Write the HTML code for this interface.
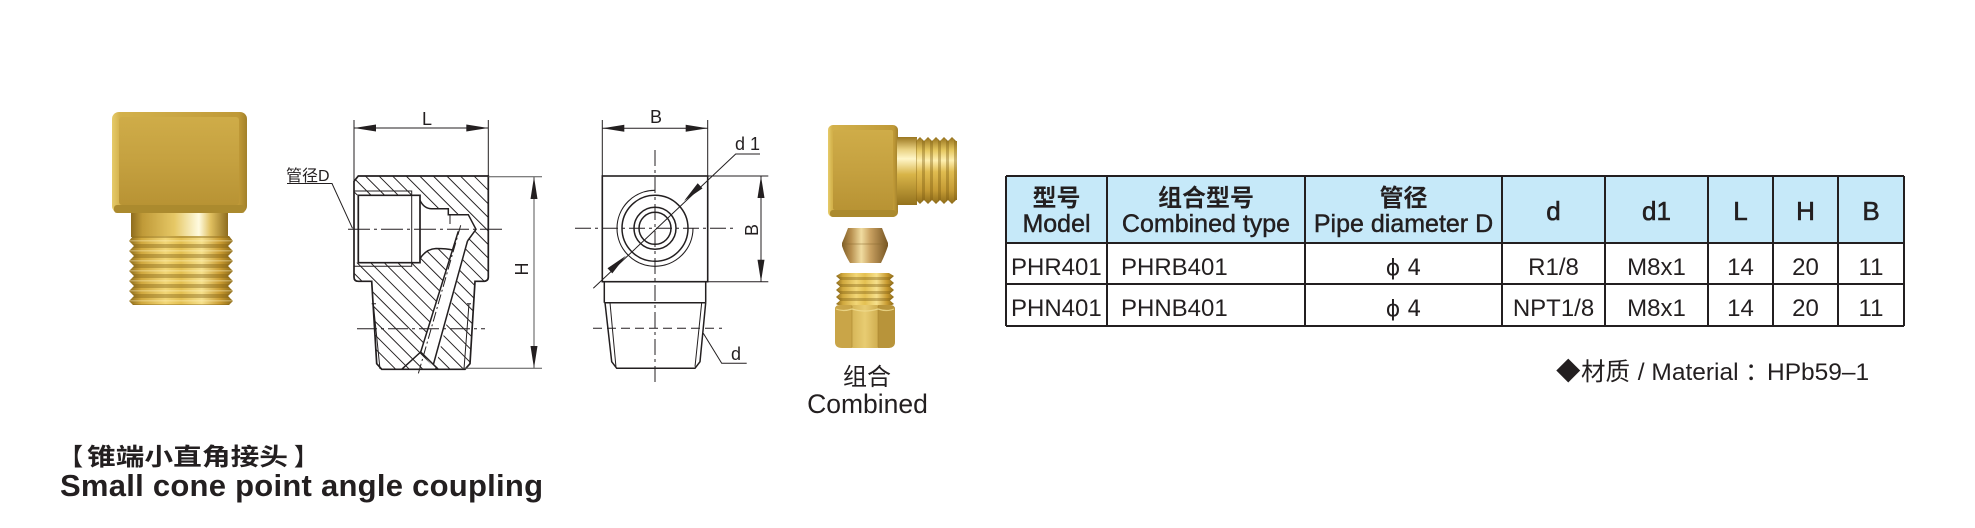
<!DOCTYPE html>
<html>
<head>
<meta charset="utf-8">
<style>
html,body{margin:0;padding:0;background:#fff;}
svg{display:block}
</style>
</head>
<body>
<svg width="1975" height="528" viewBox="0 0 1975 528" xmlns="http://www.w3.org/2000/svg" font-family="'Liberation Sans','Noto Sans CJK SC',sans-serif" fill="#231f20">
<defs>
  <pattern id="hatch" patternUnits="userSpaceOnUse" width="40" height="9.6" patternTransform="rotate(45)">
    <line x1="0" y1="0.5" x2="40" y2="0.5" stroke="#231f20" stroke-width="1"/>
  </pattern>
  <linearGradient id="headOuter" x1="0" y1="0" x2="1" y2="0">
    <stop offset="0" stop-color="#e6cb6a"/><stop offset="0.06" stop-color="#d3b14b"/>
    <stop offset="0.5" stop-color="#c9a643"/><stop offset="0.94" stop-color="#bf9937"/>
    <stop offset="1" stop-color="#a2802a"/>
  </linearGradient>
  <linearGradient id="headFace" x1="0" y1="0" x2="0" y2="1">
    <stop offset="0" stop-color="#cfac48"/><stop offset="0.5" stop-color="#c5a140"/>
    <stop offset="1" stop-color="#b89334"/>
  </linearGradient>
  <linearGradient id="neckH" x1="0" y1="0" x2="1" y2="0">
    <stop offset="0" stop-color="#8e6c1e"/><stop offset="0.12" stop-color="#c09a38"/>
    <stop offset="0.45" stop-color="#e6c866"/><stop offset="0.7" stop-color="#fffbe0"/>
    <stop offset="0.82" stop-color="#e0c060"/><stop offset="1" stop-color="#8e6c1e"/>
  </linearGradient>
  <linearGradient id="neckV" x1="0" y1="0" x2="0" y2="1">
    <stop offset="0" stop-color="#9a7620"/><stop offset="0.18" stop-color="#e8d080"/>
    <stop offset="0.32" stop-color="#fff6c8"/><stop offset="0.55" stop-color="#d8b448"/>
    <stop offset="1" stop-color="#94721e"/>
  </linearGradient>
  <linearGradient id="threadH" x1="0" y1="0" x2="1" y2="0">
    <stop offset="0" stop-color="#8c6a1a"/><stop offset="0.12" stop-color="#d0a83e"/>
    <stop offset="0.35" stop-color="#f2d676"/><stop offset="0.5" stop-color="#e4c052"/>
    <stop offset="0.7" stop-color="#f6e08c"/><stop offset="0.88" stop-color="#c89a30"/>
    <stop offset="1" stop-color="#8a6818"/>
  </linearGradient>
  <linearGradient id="threadV" x1="0" y1="0" x2="0" y2="1">
    <stop offset="0" stop-color="#94701c"/><stop offset="0.2" stop-color="#e6c860"/>
    <stop offset="0.35" stop-color="#fff0b0"/><stop offset="0.52" stop-color="#e0bc50"/>
    <stop offset="0.8" stop-color="#c49a34"/><stop offset="1" stop-color="#8e6c1a"/>
  </linearGradient>
  <linearGradient id="oliveG" x1="0" y1="0" x2="1" y2="0">
    <stop offset="0" stop-color="#7e5e26"/><stop offset="0.2" stop-color="#b89050"/>
    <stop offset="0.42" stop-color="#f0dca0"/><stop offset="0.62" stop-color="#c8a060"/>
    <stop offset="1" stop-color="#755422"/>
  </linearGradient>
  <linearGradient id="hexMid" x1="0" y1="0" x2="1" y2="0">
    <stop offset="0" stop-color="#d6b658"/><stop offset="0.5" stop-color="#e8cc72"/>
    <stop offset="1" stop-color="#d0ae50"/>
  </linearGradient>
  <pattern id="stripesH" patternUnits="userSpaceOnUse" width="20" height="10" patternTransform="translate(0,244)">
    <rect x="0" y="0" width="20" height="4" fill="#7a5a10" fill-opacity="0.38"/>
    <rect x="0" y="6" width="20" height="1.5" fill="#fff4c0" fill-opacity="0.35"/>
  </pattern>
  <pattern id="stripesN" patternUnits="userSpaceOnUse" width="20" height="7" patternTransform="translate(0,277)">
    <rect x="0" y="0" width="20" height="3" fill="#7a5a10" fill-opacity="0.38"/>
  </pattern>
  <pattern id="stripesV" patternUnits="userSpaceOnUse" width="8" height="20" patternTransform="translate(922,0)">
    <rect x="0" y="0" width="3" height="20" fill="#7a5a10" fill-opacity="0.38"/>
  </pattern>
</defs>

<!-- ================= PHOTO 1 ================= -->
<rect x="112" y="112" width="135" height="101" rx="7" fill="url(#headOuter)"/>
<rect x="119" y="117" width="120" height="88" rx="3" fill="url(#headFace)"/>
<rect x="114" y="205" width="131" height="8" rx="3" fill="#ab8a2e"/>
<rect x="131" y="213" width="97" height="24" fill="url(#neckH)"/>
<polygon fill="url(#threadH)" points="133,236 129,241 134,246 129,251 134,256 129,261 134,266 129,271 134,276 129,281 134,286 129,291 134,296 129,301 133,305 229,305 233,301 228,296 233,291 228,286 233,281 228,276 233,271 228,266 233,261 228,256 233,251 228,246 233,241 229,236"/>
<polygon fill="url(#stripesH)" points="133,236 129,241 134,246 129,251 134,256 129,261 134,266 129,271 134,276 129,281 134,286 129,291 134,296 129,301 133,305 229,305 233,301 228,296 233,291 228,286 233,281 228,276 233,271 228,266 233,261 228,256 233,251 228,246 233,241 229,236"/>

<!-- ================= SECTION DRAWING (left) ================= -->
<path d="M354,181.3 L358.3,176 L488.3,176 L488.3,277 Q488.3,281.3 483.3,281.3 L475,281.3 L470,363.7 L465,369.3 L381.7,369.3 L376.7,363.7 L371.7,281.3 L358.3,281.3 Q354,281.3 354,277 Z" fill="#fff"/>
<path d="M354,181.3 L358.3,176 L488.3,176 L488.3,277 Q488.3,281.3 483.3,281.3 L475,281.3 L470,363.7 L465,369.3 L381.7,369.3 L376.7,363.7 L371.7,281.3 L358.3,281.3 Q354,281.3 354,277 Z" fill="url(#hatch)"/>
<polygon fill="#fff" points="354,195.3 420,195.3 420,200.3 426,206.5 431.7,208.7 448.3,208.7 450,214.7 468.3,214.7 476,229.3 467.5,241 435,369.3 420.7,352 452.5,250 440,248.5 432,249 425,253 420,258.7 420,262.7 354,262.7"/>
<g fill="none" stroke="#231f20">
  <path d="M354,181.3 L358.3,176 L488.3,176 L488.3,277 Q488.3,281.3 483.3,281.3 L475,281.3 L470,363.7 L465,369.3 L381.7,369.3 L376.7,363.7 L371.7,281.3 L358.3,281.3 Q354,281.3 354,277 Z" stroke-width="1.7"/>
  <path d="M354,191 H411.7 V266.3 H354" stroke-width="1"/>
  <path d="M358.3,195.3 H420 V262.7 H358.3 Z" stroke-width="1.7"/>
  <path d="M420,200.3 Q424,208.7 431.7,208.7 H448.3 V214.7 H468.3 L476,229.3 L467.5,241" stroke-width="1.5"/>
  <path d="M450,214.7 V224" stroke-width="1"/>
  <path d="M420,258.7 Q426,249 436,248.5 Q447,248.5 452.5,250" stroke-width="1.5"/>
  <path d="M458.3,231.3 L420.7,352" stroke-width="1.5"/>
  <path d="M467.5,241 L433.5,364" stroke-width="1.5"/>
  <path d="M401.7,369.3 L420.7,352 L438.3,369.3" stroke-width="1.5"/>
  <path d="M373.3,303.7 L380,369 M469,303.7 L464,369 M371.7,303.7 H376 M471,303.7 H467" stroke-width="1"/>
  <path d="M348,229.3 H502" stroke-width="1" stroke-dasharray="22,4,3,4"/>
  <path d="M357,328.7 H485" stroke-width="1" stroke-dasharray="20,4,3,4"/>
  <path d="M460.7,225.3 L418.3,373.7" stroke-width="1" stroke-dasharray="10,3,2,3"/>
  <path d="M354,120 V181 M488.3,120 V176 M354,128 H488.3" stroke-width="1"/>
  <path d="M488.3,176.7 H542 M462,368.3 H542 M534,176.7 V368.3" stroke-width="1" stroke="#555"/>
  <path d="M287,183.5 H332 L352.5,228.3" stroke-width="1"/>
</g>
<polygon points="354,128 376,124.5 376,131.5"/>
<polygon points="488.3,128 466.3,124.5 466.3,131.5"/>
<polygon points="534,176.7 530.5,199 537.5,199"/>
<polygon points="534,368.3 530.5,346 537.5,346"/>
<text x="427" y="125" font-size="18" text-anchor="middle">L</text>
<text transform="translate(528,269) rotate(-90)" font-size="18" text-anchor="middle">H</text>
<text x="286" y="181" font-size="16">管径D</text>

<!-- ================= END VIEW DRAWING (middle) ================= -->
<g fill="none" stroke="#231f20">
  <rect x="602.3" y="176" width="105.4" height="105.7" stroke-width="1.6"/>
  <path d="M604.3,281.7 V302.7 M705.7,281.7 V302.7 M604.3,302.7 H705.7" stroke-width="1.5"/>
  <path d="M605,302.7 L611.7,361.7 L616.7,368.3 H695 L700,361.7 L705.7,302.7" stroke-width="1.5"/>
  <path d="M610,302.7 L616,367.3 M701.7,302.7 L695,366.7" stroke-width="1"/>
  <path d="M593,328.3 H722" stroke-width="1" stroke-dasharray="9,5"/>
  <path d="M655,190.3 A38,38 0 1 0 693,228.3" stroke-width="1.1"/>
  <circle cx="655" cy="228.3" r="33" stroke-width="1.5"/>
  <circle cx="655" cy="228.3" r="21" stroke-width="1.5"/>
  <circle cx="655" cy="228.3" r="16" stroke-width="1.5"/>
  <path d="M655,150 V382" stroke-width="1" stroke-dasharray="16,4,3,4"/>
  <path d="M575,228.3 H735" stroke-width="1" stroke-dasharray="16,4,3,4"/>
  <path d="M602.3,120 V176 M707.7,120 V176 M602.3,128.3 H707.7" stroke-width="1"/>
  <path d="M707.7,176 H768.3 M707.7,281.7 H768.3 M761,176 V281.7" stroke-width="1"/>
  <path d="M593.3,288.3 L735.7,154 H760" stroke-width="1"/>
  <path d="M703.3,333.3 L721.7,363.3 H746.7" stroke-width="1"/>
</g>
<polygon points="602.3,128.3 624.3,124.8 624.3,131.8"/>
<polygon points="707.7,128.3 685.7,124.8 685.7,131.8"/>
<polygon points="761,176 757.5,198 764.5,198"/>
<polygon points="761,281.7 757.5,259.7 764.5,259.7"/>
<polygon points="684.1,200.9 702.5,188.4 697.7,183.3"/>
<polygon points="625.9,255.7 612.3,273.4 607.5,268.3"/>
<text x="656" y="123" font-size="18" text-anchor="middle">B</text>
<text transform="translate(758.2,230) rotate(-90)" font-size="18" text-anchor="middle">B</text>
<text x="735" y="150" font-size="18">d 1</text>
<text x="731" y="360" font-size="18">d</text>

<!-- ================= COMBINED PHOTOS ================= -->
<rect x="828" y="125" width="70" height="92" rx="5" fill="url(#headOuter)"/>
<rect x="833" y="130" width="60" height="80" rx="2" fill="url(#headFace)"/>
<rect x="830" y="210" width="66" height="7" rx="3" fill="#ab8a2e"/>
<rect x="897" y="137" width="20" height="68" fill="url(#neckV)"/>
<polygon fill="url(#threadV)" points="916,141 920,137 924,141 928,137 932,141 936,137 940,141 944,137 948,141 952,137 956,141 957,141 957,200 956,200 952,204 948,200 944,204 940,200 936,204 932,200 928,204 924,200 920,204 916,200"/>
<polygon fill="url(#stripesV)" points="916,141 920,137 924,141 928,137 932,141 936,137 940,141 944,137 948,141 952,137 956,141 957,141 957,200 956,200 952,204 948,200 944,204 940,200 936,204 932,200 928,204 924,200 920,204 916,200"/>
<path d="M848,228 L882,228 Q885,236 888,243 L888,246 Q885,255 881,263 L850,263 Q845,255 842,246 L842,243 Q845,236 848,228 Z" fill="url(#oliveG)"/>
<path d="M843,244 H887" stroke="#8a6a30" stroke-width="1" opacity="0.5"/>
<polygon fill="url(#threadH)" points="841,273 889,273 894,276 890,279.5 894,283 890,286.5 894,290 890,293.5 894,297 890,300.5 894,304 892,305 838,305 836,304 840,300.5 836,297 840,293.5 836,290 840,286.5 836,283 840,279.5 836,276"/>
<polygon fill="url(#stripesN)" points="841,273 889,273 894,276 890,279.5 894,283 890,286.5 894,290 890,293.5 894,297 890,300.5 894,304 892,305 838,305 836,304 840,300.5 836,297 840,293.5 836,290 840,286.5 836,283 840,279.5 836,276"/>
<path d="M835,309 Q835,305 840,305 L852,305 L852,348 L842,348 Q835,348 835,342 Z" fill="#c9a548"/>
<path d="M852,305 H878 V348 H852 Z" fill="url(#hexMid)"/>
<path d="M878,305 L890,305 Q895,305 895,309 L895,342 Q895,348 888,348 L878,348 Z" fill="#b8943a"/>
<path d="M852,306 V347 M878,306 V347" stroke="#a8842e" stroke-width="0.8" opacity="0.7"/>
<path d="M836,309 Q843,312 852,309 Q865,313 878,309 Q887,312 894,309" stroke="#f0dc90" stroke-width="1.2" fill="none" opacity="0.8"/>

<text x="867" y="385" font-size="24" text-anchor="middle">组合</text>
<text x="867.5" y="413" font-size="26.5" text-anchor="middle">Combined</text>

<!-- ================= TABLE ================= -->
<rect x="1006" y="176" width="898" height="67" fill="#c6e9f9"/>
<g stroke="#231f20" stroke-width="2" fill="none">
  <path d="M1006,176 H1904 M1006,243 H1904 M1006,284 H1904 M1006,326 H1904"/>
  <path d="M1006,176 V326 M1107,176 V326 M1305,176 V326 M1502,176 V326 M1605,176 V326 M1708,176 V326 M1773,176 V326 M1838,176 V326 M1904,176 V326"/>
</g>
<g font-size="24" font-weight="bold" text-anchor="middle">
  <text x="1056.5" y="206">型号</text>
  <text x="1206" y="206">组合型号</text>
  <text x="1403.5" y="206">管径</text>
</g>
<g font-size="25" text-anchor="middle" stroke="#231f20" stroke-width="0.45">
  <text x="1056.5" y="232">Model</text>
  <text x="1206" y="232">Combined type</text>
  <text x="1403.5" y="232">Pipe diameter D</text>
</g>
<g font-size="26" text-anchor="middle" stroke="#231f20" stroke-width="0.6">
  <text x="1553.5" y="220">d</text>
  <text x="1656.5" y="220">d1</text>
  <text x="1740.5" y="220">L</text>
  <text x="1805.5" y="220">H</text>
  <text x="1871" y="220">B</text>
</g>
<g font-size="24">
  <text x="1011" y="275">PHR401</text>
  <text x="1121" y="275">PHRB401</text>
  <text x="1011" y="316">PHN401</text>
  <text x="1121" y="316">PHNB401</text>
</g>
<g font-size="24" text-anchor="middle">
  <text x="1403.5" y="275" font-family="'DejaVu Sans','Liberation Sans',sans-serif" font-size="22">ϕ 4</text>
  <text x="1553.5" y="275">R1/8</text>
  <text x="1656.5" y="275">M8x1</text>
  <text x="1740.5" y="275">14</text>
  <text x="1805.5" y="275">20</text>
  <text x="1871" y="275">11</text>
  <text x="1403.5" y="316" font-family="'DejaVu Sans','Liberation Sans',sans-serif" font-size="22">ϕ 4</text>
  <text x="1553.5" y="316">NPT1/8</text>
  <text x="1656.5" y="316">M8x1</text>
  <text x="1740.5" y="316">14</text>
  <text x="1805.5" y="316">20</text>
  <text x="1871" y="316">11</text>
</g>

<!-- material -->
<text y="380" font-size="24.5"><tspan x="1556">◆</tspan><tspan x="1581">材质</tspan><tspan x="1631"> / Material</tspan><tspan x="1745">：</tspan><tspan x="1767">HPb59–1</tspan></text>

<!-- ================= TITLE ================= -->
<text x="59" y="465" font-size="24" font-weight="bold">【</text>
<text x="87" y="465" font-size="24" font-weight="bold" textLength="201" lengthAdjust="spacingAndGlyphs">锥端小直角接头</text>
<text x="294" y="465" font-size="24" font-weight="bold">】</text>
<text x="60" y="496" font-size="31" font-weight="bold" textLength="483" lengthAdjust="spacing">Small cone point angle coupling</text>
</svg>
</body>
</html>
